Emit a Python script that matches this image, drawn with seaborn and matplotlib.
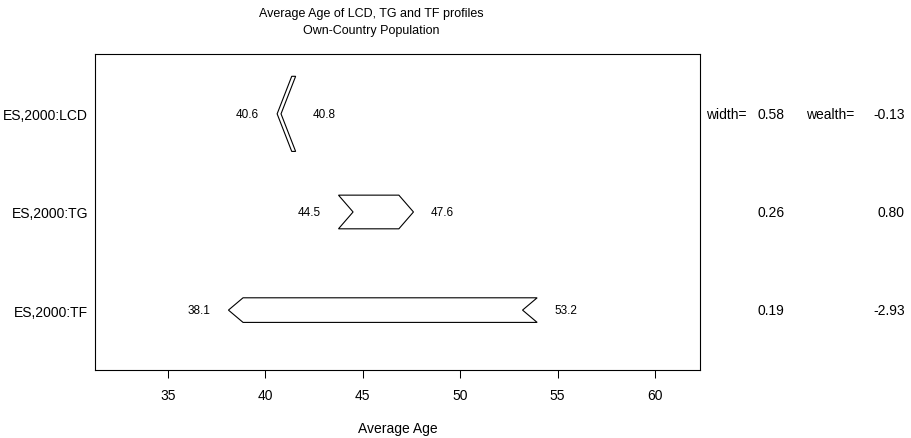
import seaborn as sns
import matplotlib
matplotlib.use("Agg")
import matplotlib.pyplot as plt
from matplotlib.patches import Polygon
import matplotlib.transforms as mtransforms

# data
profiles = ["ES,2000:LCD", "ES,2000:TG", "ES,2000:TF"]
start_age = [40.8, 44.5, 53.2]
end_age = [40.6, 47.6, 38.1]
widths = [0.58, 0.26, 0.19]
wealth = [-0.13, 0.80, -2.93]
xticks = [35, 40, 45, 50, 55, 60]

sns.set_theme(style="white", rc={"text.color": "black",
                                 "axes.labelcolor": "black",
                                 "xtick.color": "black",
                                 "ytick.color": "black",
                                 "axes.edgecolor": "black"})
plt.rcParams["font.family"] = ["Liberation Sans", "DejaVu Sans"]

f, ax = plt.subplots(figsize=(9.12, 4.39), dpi=100)
f.subplots_adjust(left=0.1042, right=0.7675, bottom=0.155, top=0.8747)

head = 0.75      # arrow head / notch depth (x units)
hscale = 0.66    # half height per unit of width (y units)
ypos = [3, 2, 1]

for y, s, e, w in zip(ypos, start_age, end_age, widths):
    d = 1 if e > s else -1
    h = w * hscale
    pts = [(e, y), (e - d * head, y + h), (s - d * head, y + h),
           (s, y), (s - d * head, y - h), (e - d * head, y - h)]
    ax.add_patch(Polygon(pts, closed=True, facecolor="white",
                         edgecolor="black", linewidth=0.8))
    xs = [p[0] for p in pts]
    ax.annotate(f"{min(s, e):.1f}", (min(xs), y), xytext=(-13, 0),
                textcoords="offset points", ha="right", va="center",
                fontsize=8.5, color="black")
    ax.annotate(f"{max(s, e):.1f}", (max(xs), y), xytext=(12.5, 0),
                textcoords="offset points", ha="left", va="center",
                fontsize=8.5, color="black")

ax.set_xlim(31.25, 62.31)
ax.set_ylim(0.39, 3.61)
ax.set_xticks(xticks)
ax.set_yticks(ypos)
ax.set_yticklabels(profiles)
ax.tick_params(axis="y", length=0, pad=5, labelsize=10, colors="black")
ax.tick_params(axis="x", length=5.8, width=0.75, pad=7, labelsize=10,
               colors="black", direction="out", bottom=True)
for sp in ax.spines.values():
    sp.set_color("black")
    sp.set_linewidth(0.8)
ax.grid(False)

ax.set_xlabel("Average Age", fontsize=10, labelpad=14, color="black")

# side columns: width and wealth
tr = mtransforms.blended_transform_factory(f.transFigure, ax.transData)
ax.text(706 / 912, ypos[0], "width=", transform=tr, ha="left",
        va="center", fontsize=10, clip_on=False)
ax.text(806 / 912, ypos[0], "wealth=", transform=tr, ha="left",
        va="center", fontsize=10, clip_on=False)
for y, w, wl in zip(ypos, widths, wealth):
    ax.text(757 / 912, y, f"{w:.2f}", transform=tr, ha="left",
            va="center", fontsize=10, clip_on=False)
    ax.text(905 / 912, y, f"{wl:.2f}", transform=tr, ha="right",
            va="center", fontsize=10, clip_on=False)

f.text(371 / 912, 1 - 14 / 439, "Average Age of LCD, TG and TF profiles",
       ha="center", va="center", fontsize=9)
f.text(371 / 912, 1 - 31 / 439, "Own-Country Population",
       ha="center", va="center", fontsize=9)

f.savefig("out.png", dpi=100)
